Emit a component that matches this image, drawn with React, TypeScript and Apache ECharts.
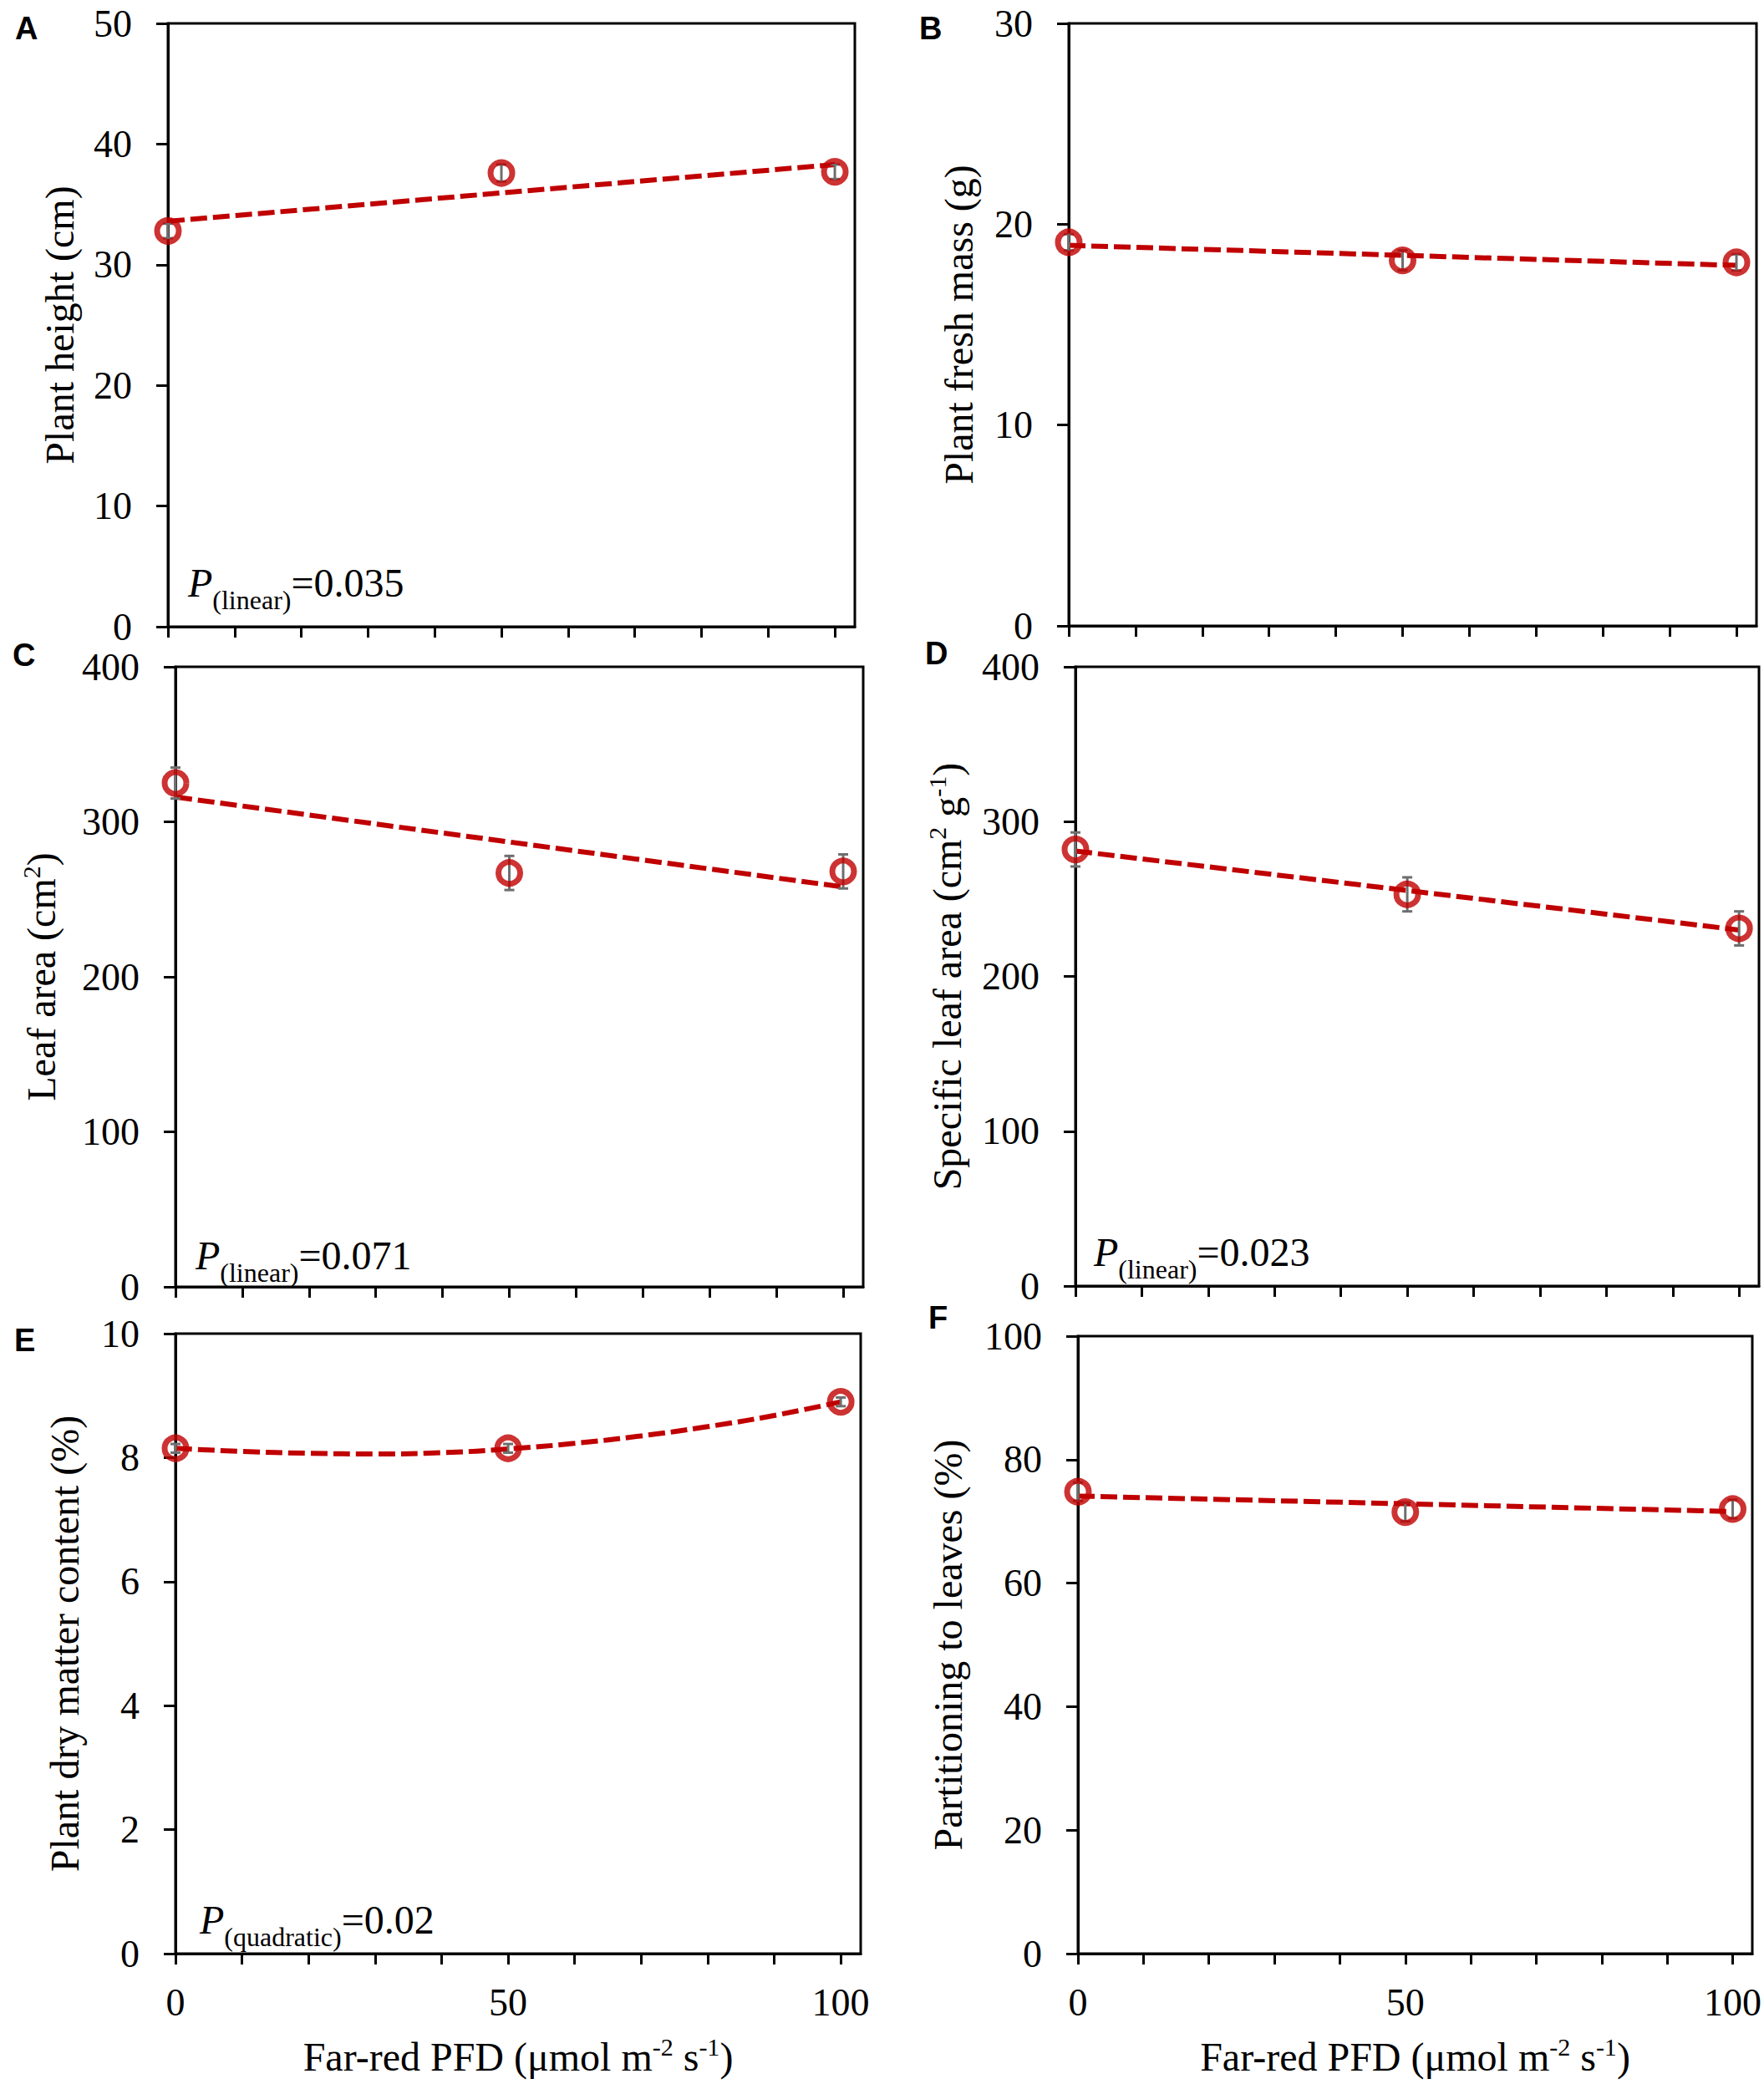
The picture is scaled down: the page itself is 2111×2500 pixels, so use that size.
import { useEffect, useRef } from "react";
import * as echarts from "echarts";

// far-red photon flux density treatments (µmol m-2 s-1)
const farRed = [0, 50, 100];
const fitEnds = [0, 100];
const xTicks = [0, 10, 20, 30, 40, 50, 60, 70, 80, 90, 100];
const xTickLabels = [0, 50, 100];

// A: plant height (cm)
const heightMean = [32.8, 37.6, 37.7];
const heightErr = [0.6, 0.7, 0.6];
const heightFit = [33.6, 38.3];

// B: plant fresh mass (g)
const freshMean = [19.1, 18.2, 18.1];
const freshErr = [0.4, 0.5, 0.4];
const freshFit = [18.95, 17.95];

// C: leaf area (cm2)
const leafAreaMean = [325, 267, 268];
const leafAreaErr = [10, 11, 11];
const leafAreaFit = [316, 258];

// D: specific leaf area (cm2 g-1)
const slaMean = [282, 253, 231];
const slaErr = [11, 11, 11];
const slaFit = [281, 230];

// E: plant dry matter content (%)
const dmcMean = [8.15, 8.15, 8.9];
const dmcErr = [0.07, 0.07, 0.07];
const dmcFitX = [0, 10, 20, 30, 40, 50, 60, 70, 80, 90, 100];
const dmcFit = [8.15, 8.1, 8.07, 8.06, 8.08, 8.14, 8.23, 8.35, 8.5, 8.68, 8.9];

// F: partitioning to leaves (%)
const partMean = [74.8, 71.5, 72.0];
const partErr = [1.5, 1.5, 1.5];
const partFit = [74.1, 71.6];

const SERIF = "'Liberation Serif', 'Times New Roman', serif";
const SANS = "'Liberation Sans', Arial, sans-serif";
const RED = "#c00000";
const GREY = "#6e6e6e";
const FS = 46;
const NAME_FS = 48;

const panels = [
  {
    letter: "A", grid: { left: 201, top: 28, width: 822, height: 722 },
    yMax: 50, yStep: 10, yName: "{t|Plant height (cm)}", nameGap: 103,
    mean: heightMean, err: heightErr, fitX: fitEnds, fitY: heightFit,
    p: { sub: "(linear)", val: "=0.035", x: 225, y: 673 }, letterPos: [18, 34], xLabels: false,
  },
  {
    letter: "B", grid: { left: 1279, top: 28, width: 823, height: 721 },
    yMax: 30, yStep: 10, yName: "{t|Plant fresh mass (g)}", nameGap: 105,
    mean: freshMean, err: freshErr, fitX: fitEnds, fitY: freshFit,
    p: null, letterPos: [1100, 34], xLabels: false,
  },
  {
    letter: "C", grid: { left: 210, top: 798, width: 823, height: 742 },
    yMax: 400, yStep: 100, yName: "{t|Leaf area (cm}{sup|2}{t|)}", nameGap: 134,
    mean: leafAreaMean, err: leafAreaErr, fitX: fitEnds, fitY: leafAreaFit,
    p: { sub: "(linear)", val: "=0.071", x: 234, y: 1478 }, letterPos: [15, 784], xLabels: false,
  },
  {
    letter: "D", grid: { left: 1287, top: 798, width: 818, height: 741 },
    yMax: 400, yStep: 100, yName: "{t|Specific leaf area (cm}{sup|2}{t| g}{sup|-1}{t|)}", nameGap: 127,
    mean: slaMean, err: slaErr, fitX: fitEnds, fitY: slaFit,
    p: { sub: "(linear)", val: "=0.023", x: 1309, y: 1474 }, letterPos: [1107, 782], xLabels: false,
  },
  {
    letter: "E", grid: { left: 210, top: 1596, width: 820, height: 742 },
    yMax: 10, yStep: 2, yName: "{t|Plant dry matter content (%)}", nameGap: 106,
    mean: dmcMean, err: dmcErr, fitX: dmcFitX, fitY: dmcFit,
    p: { sub: "(quadratic)", val: "=0.02", x: 239, y: 2273 }, letterPos: [17, 1604], xLabels: true,
  },
  {
    letter: "F", grid: { left: 1290, top: 1599, width: 811, height: 739 },
    yMax: 100, yStep: 20, yName: "{t|Partitioning to leaves (%)}", nameGap: 129,
    mean: partMean, err: partErr, fitX: fitEnds, fitY: partFit,
    p: null, letterPos: [1111, 1577], xLabels: true,
  },
];

const axisNameRich = {
  t: { fontFamily: SERIF, fontSize: NAME_FS, color: "#000", lineHeight: 54, verticalAlign: "middle" },
  sup: { fontFamily: SERIF, fontSize: 30, color: "#000", lineHeight: 30, verticalAlign: "top" },
};

function App() {
  const chartRef = useRef(null);

  useEffect(() => {
    document.body.style.margin = "0";
    const chart = echarts.init(chartRef.current, null, { renderer: "svg" });

    const grids: any[] = [];
    const xAxes: any[] = [];
    const yAxes: any[] = [];
    const series: any[] = [];
    const graphics: any[] = [];

    panels.forEach((pn, i) => {
      grids.push({
        ...pn.grid,
        show: true,
        borderColor: "#000",
        borderWidth: 3,
        backgroundColor: "transparent",
      });

      xAxes.push({
        type: "value",
        gridIndex: i,
        min: 0,
        max: 103,
        splitLine: { show: false },
        axisLine: { lineStyle: { color: "#000", width: 3 } },
        axisTick: { customValues: xTicks, length: 13, lineStyle: { color: "#000", width: 3 } },
        axisLabel: pn.xLabels
          ? { customValues: xTickLabels, fontFamily: SERIF, fontSize: FS, color: "#000", margin: 35 }
          : { show: false },
        name: pn.xLabels ? "{t|Far-red PFD (μmol m}{sup|-2}{t| s}{sup|-1}{t|)}" : "",
        nameLocation: "middle",
        nameGap: 96,
        nameTextStyle: { rich: axisNameRich },
      });

      yAxes.push({
        type: "value",
        gridIndex: i,
        min: 0,
        max: pn.yMax,
        interval: pn.yStep,
        splitLine: { show: false },
        axisLine: { lineStyle: { color: "#000", width: 3 } },
        axisTick: { length: 14, lineStyle: { color: "#000", width: 3 } },
        axisLabel: { fontFamily: SERIF, fontSize: FS, lineHeight: 40, color: "#000", margin: 43 },
        name: pn.yName,
        nameLocation: "middle",
        nameGap: pn.nameGap,
        nameTextStyle: { rich: axisNameRich },
      });

      // fitted regression (dashed)
      series.push({
        type: "line",
        xAxisIndex: i,
        yAxisIndex: i,
        data: pn.fitX.map((x, k) => [x, pn.fitY[k]]),
        smooth: pn.fitX.length > 2,
        showSymbol: false,
        symbol: "none",
        clip: false,
        lineStyle: { color: RED, width: 6, type: [20, 7] },
        z: 2,
      });

      // standard-error bars
      series.push({
        type: "custom",
        xAxisIndex: i,
        yAxisIndex: i,
        clip: false,
        data: farRed.map((x, k) => [x, pn.mean[k], pn.err[k]]),
        encode: { x: 0, y: 1 },
        renderItem: (_params: any, api: any) => {
          const x = api.value(0);
          const y = api.value(1);
          const e = api.value(2);
          const hi = api.coord([x, y + e]);
          const lo = api.coord([x, y - e]);
          const hw = 6;
          const st = { stroke: GREY, lineWidth: 3 };
          return {
            type: "group",
            children: [
              { type: "line", shape: { x1: hi[0], y1: hi[1], x2: lo[0], y2: lo[1] }, style: st },
              { type: "line", shape: { x1: hi[0] - hw, y1: hi[1], x2: hi[0] + hw, y2: hi[1] }, style: st },
              { type: "line", shape: { x1: lo[0] - hw, y1: lo[1], x2: lo[0] + hw, y2: lo[1] }, style: st },
            ],
          };
        },
        z: 3,
      });

      // treatment means (open circles)
      series.push({
        type: "scatter",
        xAxisIndex: i,
        yAxisIndex: i,
        clip: false,
        data: farRed.map((x, k) => [x, pn.mean[k]]),
        symbol: "circle",
        symbolSize: 26,
        itemStyle: { color: "rgba(255,255,255,0)", borderColor: RED, borderWidth: 7 },
        z: 4,
      });

      graphics.push({
        type: "text",
        x: pn.letterPos[0],
        y: pn.letterPos[1],
        style: {
          text: pn.letter,
          fontFamily: SANS,
          fontWeight: "bold",
          fontSize: 38,
          fill: "#000",
          align: "left",
          verticalAlign: "middle",
        },
      });

      if (pn.p) {
        graphics.push({
          type: "text",
          x: pn.p.x,
          y: pn.p.y,
          z: 10,
          style: {
            text: `{p|P}{s|${pn.p.sub}}{n|${pn.p.val}}`,
            align: "left",
            verticalAlign: "top",
            rich: {
              p: { fontFamily: SERIF, fontStyle: "italic", fontSize: 48, fill: "#000", lineHeight: 54, verticalAlign: "top" },
              s: { fontFamily: SERIF, fontSize: 32, fill: "#000", lineHeight: 32, padding: [29, 0, 0, 0], verticalAlign: "top" },
              n: { fontFamily: SERIF, fontSize: 48, fill: "#000", lineHeight: 54, verticalAlign: "top" },
            },
          },
        });
      }
    });

    const option = {
      animation: false,
      backgroundColor: "#fff",
      grid: grids,
      xAxis: xAxes,
      yAxis: yAxes,
      series: series,
      graphic: graphics,
    };

    chart.setOption(option);

    return () => {
      chart.dispose();
    };
  }, []);

  return <div ref={chartRef} style={{ width: 2111, height: 2500 }} />;
}

export default App;
